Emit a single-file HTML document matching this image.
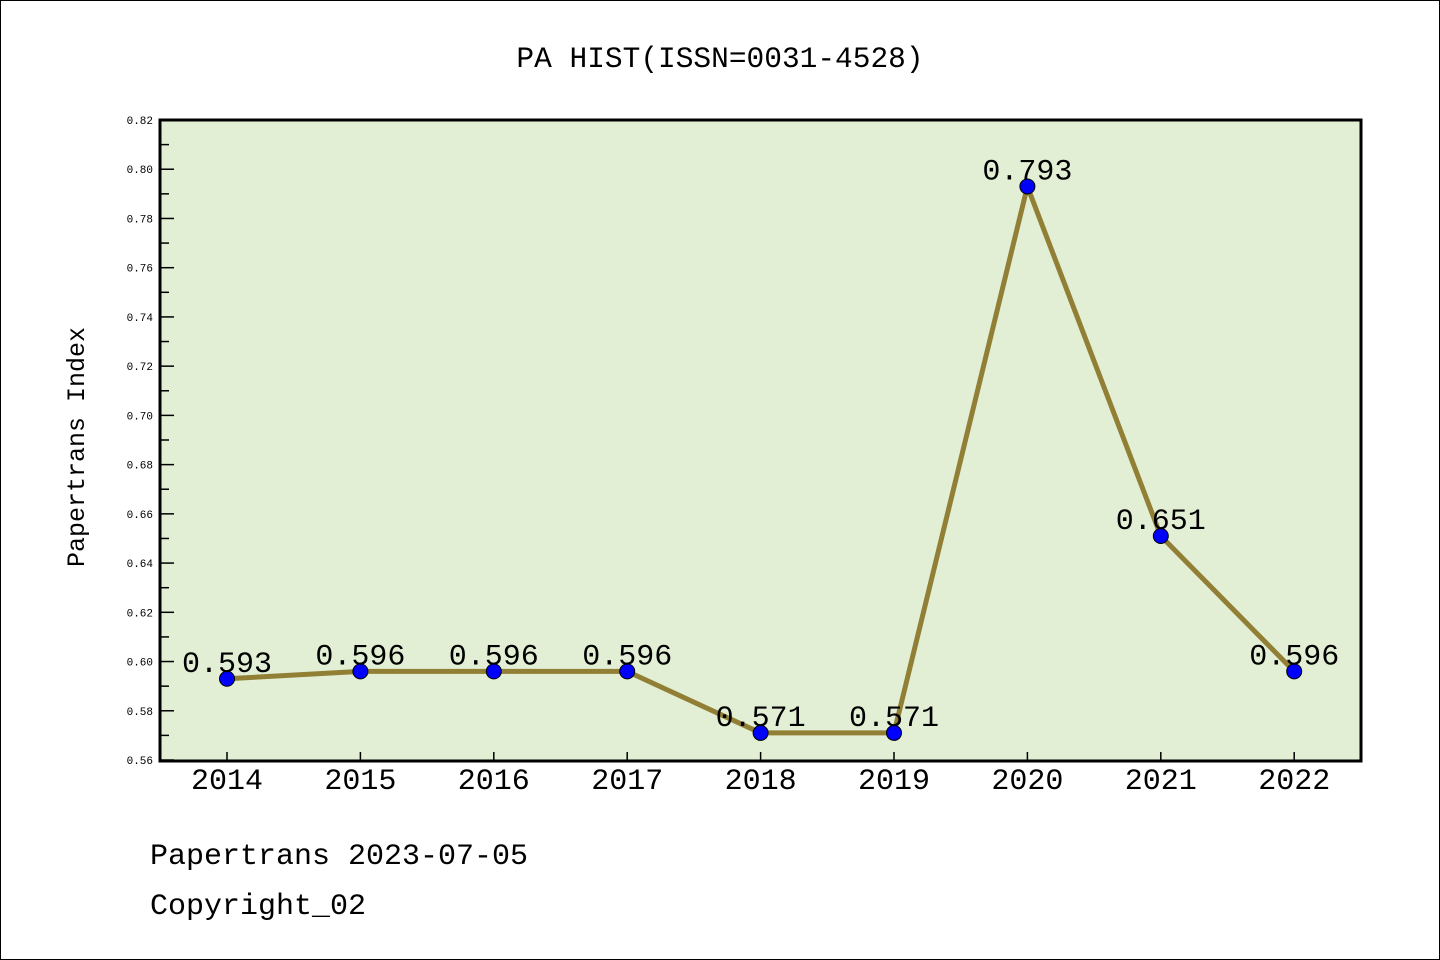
<!DOCTYPE html>
<html><head><meta charset="utf-8"><style>
html,body{margin:0;padding:0;background:#fff}
svg{display:block}
text{font-family:"Liberation Mono",monospace}
</style></head><body>
<svg id="chart" width="1440" height="960" xmlns="http://www.w3.org/2000/svg">
<rect x="0.5" y="0.5" width="1439" height="959" fill="#fff" stroke="#000"/>
<text x="720" y="67" text-anchor="middle" font-size="29.5">PA HIST(ISSN=0031-4528)</text>
<rect x="160" y="120" width="1201" height="641" fill="#e2efd5"/>
<g id="axes"></g>
<g id="marks"></g>
<rect x="160" y="120" width="1201" height="641" fill="none" stroke="#000" stroke-width="3"/>
<text transform="translate(84,447) rotate(-90)" text-anchor="middle" font-size="25">Papertrans Index</text>
<text x="150" y="864" font-size="30">Papertrans 2023-07-05</text>
<text x="150" y="914" font-size="30">Copyright_02</text>
</svg>
<script>
const years = ["2014","2015","2016","2017","2018","2019","2020","2021","2022"];
const values = [0.593,0.596,0.596,0.596,0.571,0.571,0.793,0.651,0.596];
const labels = ["0.593","0.596","0.596","0.596","0.571","0.571","0.793","0.651","0.596"];
const yTicks = [0.56,0.58,0.60,0.62,0.64,0.66,0.68,0.70,0.72,0.74,0.76,0.78,0.80,0.82];
const NS="http://www.w3.org/2000/svg";
const yMin=0.56,yMax=0.82,plotTop=120,plotBot=760;
function ys(v){return plotBot-(v-yMin)/(yMax-yMin)*(plotBot-plotTop);}
function xs(i){return 227+i*133.4;}
function mk(tag,attrs,parent){const e=document.createElementNS(NS,tag);for(const k in attrs)e.setAttribute(k,attrs[k]);parent.appendChild(e);return e;}
const axesG=document.getElementById('axes'),marksG=document.getElementById('marks');
yTicks.forEach((t,i)=>{
  const y=ys(t);
  const l=mk('line',{x1:160,x2:174,y1:y,y2:y,stroke:'#000','stroke-width':1.5},axesG);
  
  
  const tx=mk('text',{x:153,y:y+4,'text-anchor':'end','font-size':11,'font-family':'Liberation Sans, sans-serif'},axesG);
  tx.textContent=t.toFixed(2);
  
  
  if(i<yTicks.length-1){
    const ym=ys(t+0.01);
    const m=mk('line',{x1:160,x2:169,y1:ym,y2:ym,stroke:'#000','stroke-width':1.5},axesG);
    
    
  }
});
years.forEach((yr,i)=>{
  const x=xs(i);
  const l=mk('line',{x1:x,x2:x,y1:761,y2:752,stroke:'#000','stroke-width':1.5},axesG);
  
  
  const tx=mk('text',{x:x,y:789,'text-anchor':'middle','font-size':30},axesG);
  tx.textContent=yr;
  
  
});
const pts=values.map((v,i)=>xs(i)+','+ys(v)).join(' ');
const line=mk('polyline',{points:pts,fill:'none',stroke:'#917f35','stroke-width':5,'stroke-linejoin':'round'},marksG);


values.forEach((v,i)=>{
  const c=mk('circle',{cx:xs(i),cy:ys(v),r:7.5,fill:'#0000ff',stroke:'#000','stroke-width':1},marksG);
  
  
  const t=mk('text',{x:xs(i),y:ys(v)-7,'text-anchor':'middle','font-size':30},marksG);
  t.textContent=labels[i];
  
  
});
</script>
</body></html>
